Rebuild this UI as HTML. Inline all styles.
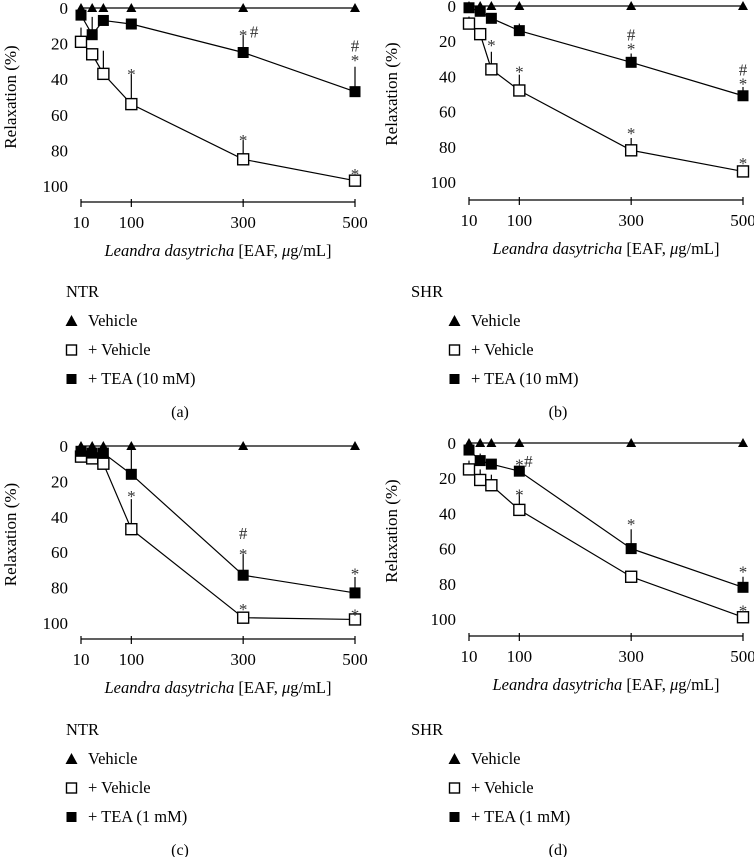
<!DOCTYPE html>
<html><head><meta charset="utf-8">
<style>
html,body{margin:0;padding:0;background:#fff;}
svg{display:block;font-family:"Liberation Serif",serif;}
</style></head>
<body>
<svg id="fig" width="754" height="857" viewBox="0 0 754 857" xmlns="http://www.w3.org/2000/svg"></svg>
<script>
const doses = [10, 30, 50, 100, 300, 500];
const xTicks = [10, 100, 300, 500];
const yTicks = [0, 20, 40, 60, 80, 100];
const vehicleA = [0, 0, 0, 0, 0, 0];
const openA = [19, 26, 37, 54, 85, 97];
const openErrA = [8, 0, 13, 17, 11, 2];
const filledA = [4, 15, 7, 9, 25, 47];
const filledErrA = [0, 10, 0, 0, 10, 14];
const openB = [10, 16, 36, 48, 82, 94];
const openErrB = [4, 0, 10, 9, 7, 3];
const filledB = [1, 3, 7, 14, 32, 51];
const filledErrB = [0, 0, 0, 4, 5, 5];
const openC = [6, 7, 10, 47, 97, 98];
const openErrC = [0, 0, 0, 17, 0, 0];
const filledC = [3, 4, 4, 16, 73, 83];
const filledErrC = [0, 0, 0, 16, 12, 9];
const openD = [15, 21, 24, 38, 76, 99];
const openErrD = [5, 6, 6, 10, 0, 0];
const filledD = [4, 10, 12, 16, 60, 82];
const filledErrD = [0, 4, 0, 3, 11, 6];
const legendLabelsA = ["NTR", "Vehicle", "+ Vehicle", "+ TEA (10 mM)"];
const legendLabelsB = ["SHR", "Vehicle", "+ Vehicle", "+ TEA (10 mM)"];
const legendLabelsC = ["NTR", "Vehicle", "+ Vehicle", "+ TEA (1 mM)"];
const legendLabelsD = ["SHR", "Vehicle", "+ Vehicle", "+ TEA (1 mM)"];
const annotA = [[3, 36, "*"], [4, 14, "*"], [4, 12, "#", 11], [5, 28, "*"], [5, 20, "#"], [5, 92, "*"]];
const annotA2 = [[4, 73, "*"]];
const annotB = [[2, 21, "*"], [3, 36, "*"], [4, 71, "*"], [4, 23, "*"], [4, 15, "#"], [5, 43, "*"], [5, 35, "#"], [5, 88, "*"]];
const annotC = [[3, 27, "*"], [4, 60, "*"], [4, 48, "#"], [4, 91, "*"], [5, 71, "*"], [5, 94, "*"]];
const annotD = [[3, 28, "*"], [3, 11, "*"], [3, 9, "#", 9], [4, 45, "*"], [5, 72, "*"], [5, 94, "*"]];

const NS = "http://www.w3.org/2000/svg";
const svg = document.getElementById("fig");
function mk(tag, attrs, parent) {
  const e = document.createElementNS(NS, tag);
  for (const k in attrs) e.setAttribute(k, attrs[k]);
  (parent || svg).appendChild(e);
  return e;
}
function panel(cfg) {
  const g = mk("g", {});
  
  
  const xs = d => cfg.x0 + (d - 10) / 490 * (cfg.x1 - cfg.x0);
  const ys = v => cfg.y0 + v / 100 * (cfg.y1 - cfg.y0);
  yTicks.forEach(t => {
    const tx = mk("text", {x: cfg.x0 - 13, y: ys(t) + 6, "text-anchor": "end", "font-size": 17}, g);
    tx.textContent = t;
    
    
  });
  const yl = mk("text", {x: 0, y: 0, "text-anchor": "middle", "font-size": 17, transform: `translate(${cfg.ylx},${(cfg.y0 + cfg.y1) / 2}) rotate(-90)`}, g);
  yl.textContent = "Relaxation (%)";
  
  
  const ax = mk("line", {x1: cfg.x0, x2: cfg.x1, y1: cfg.ax, y2: cfg.ax, stroke: "#000", "stroke-width": 1.2}, g);
  
  
  xTicks.forEach(d => {
    const tk = mk("line", {x1: xs(d), x2: xs(d), y1: cfg.ax - 3, y2: cfg.ax + 5, stroke: "#000", "stroke-width": 1.2}, g);
    
    
    const tx = mk("text", {x: xs(d), y: cfg.ax + 26, "text-anchor": "middle", "font-size": 17}, g);
    tx.textContent = d;
    
    
  });
  const xt = mk("text", {x: (cfg.x0 + cfg.x1) / 2, y: cfg.ax + 54, "text-anchor": "middle", "font-size": 16.5}, g);
  xt.innerHTML = '<tspan font-style="italic">Leandra dasytricha</tspan> [EAF, <tspan font-style="italic">μ</tspan>g/mL]';
  
  
  const series = [
    {vals: vehicleA, err: null, kind: "tri"},
    {vals: cfg.open, err: cfg.openErr, kind: "open"},
    {vals: cfg.filled, err: cfg.filledErr, kind: "filled"}
  ];
  series.forEach(s => {
    const pts = doses.map((d, i) => xs(d) + "," + ys(s.vals[i])).join(" ");
    const pl = mk("polyline", {points: pts, fill: "none", stroke: "#000", "stroke-width": 1.2}, g);
    
    
  });
  series.forEach(s => {
    doses.forEach((d, i) => {
      const cx = xs(d), cy = ys(s.vals[i]);
      if (s.err && s.err[i] > 0) {
        const eb = mk("line", {x1: cx, x2: cx, y1: cy, y2: ys(s.vals[i] - s.err[i]), stroke: "#000", "stroke-width": 1.2}, g);
        
        
      }
      let m;
      if (s.kind === "tri") m = mk("polygon", {points: `${cx - 5},${cy + 4} ${cx + 5},${cy + 4} ${cx},${cy - 5}`, fill: "#000"}, g);
      else if (s.kind === "open") m = mk("rect", {x: cx - 5.5, y: cy - 5.5, width: 11, height: 11, fill: "#fff", stroke: "#000", "stroke-width": 1.4}, g);
      else m = mk("rect", {x: cx - 5.5, y: cy - 5.5, width: 11, height: 11, fill: "#000"}, g);
      
      
    });
  });
  cfg.annot.forEach(a => {
    const tx = mk("text", {x: xs(doses[a[0]]) + (a[3] || 0), y: ys(a[1]) + 8, "text-anchor": "middle", "font-size": 17, fill: "#333"}, g);
    tx.textContent = a[2];
    
    
  });
  const L = cfg.leg;
  const t0 = mk("text", {x: L.hx, y: L.y, "font-size": 16.5}, g);
  t0.textContent = cfg.labels[0];
  
  
  ["tri", "open", "filled"].forEach((k, i) => {
    const yy = L.y + 29 * (i + 1);
    const cx = L.mx + 5.5, cy = yy - 5;
    let m;
    if (k === "tri") m = mk("polygon", {points: `${cx - 6},${cy + 5} ${cx + 6},${cy + 5} ${cx},${cy - 6}`, fill: "#000"}, g);
    else if (k === "open") m = mk("rect", {x: cx - 5, y: cy - 5, width: 10, height: 10, fill: "#fff", stroke: "#000", "stroke-width": 1.4}, g);
    else m = mk("rect", {x: cx - 5, y: cy - 5, width: 10, height: 10, fill: "#000"}, g);
    
    
    const tx = mk("text", {x: L.mx + 22, y: yy, "font-size": 16.5}, g);
    tx.textContent = cfg.labels[i + 1];
    
    
  });
  const cap = mk("text", {x: L.cx, y: L.y + 120, "text-anchor": "middle", "font-size": 16}, g);
  cap.textContent = "(" + cfg.id + ")";
  
  
}
panel({id: "a", x0: 81, x1: 355, y0: 8, y1: 186, ax: 202, ylx: 16, open: openA, openErr: openErrA, filled: filledA, filledErr: filledErrA, annot: annotA.concat(annotA2), labels: legendLabelsA, leg: {hx: 66, mx: 66, y: 297, cx: 180}});
panel({id: "b", x0: 469, x1: 743, y0: 6, y1: 182, ax: 200, ylx: 397, open: openB, openErr: openErrB, filled: filledB, filledErr: filledErrB, annot: annotB, labels: legendLabelsB, leg: {hx: 411, mx: 449, y: 297, cx: 558}});
panel({id: "c", x0: 81, x1: 355, y0: 446, y1: 623, ax: 639, ylx: 16, open: openC, openErr: openErrC, filled: filledC, filledErr: filledErrC, annot: annotC, labels: legendLabelsC, leg: {hx: 66, mx: 66, y: 735, cx: 180}});
panel({id: "d", x0: 469, x1: 743, y0: 443, y1: 619, ax: 636, ylx: 397, open: openD, openErr: openErrD, filled: filledD, filledErr: filledErrD, annot: annotD, labels: legendLabelsD, leg: {hx: 411, mx: 449, y: 735, cx: 558}});
</script>
</body></html>
